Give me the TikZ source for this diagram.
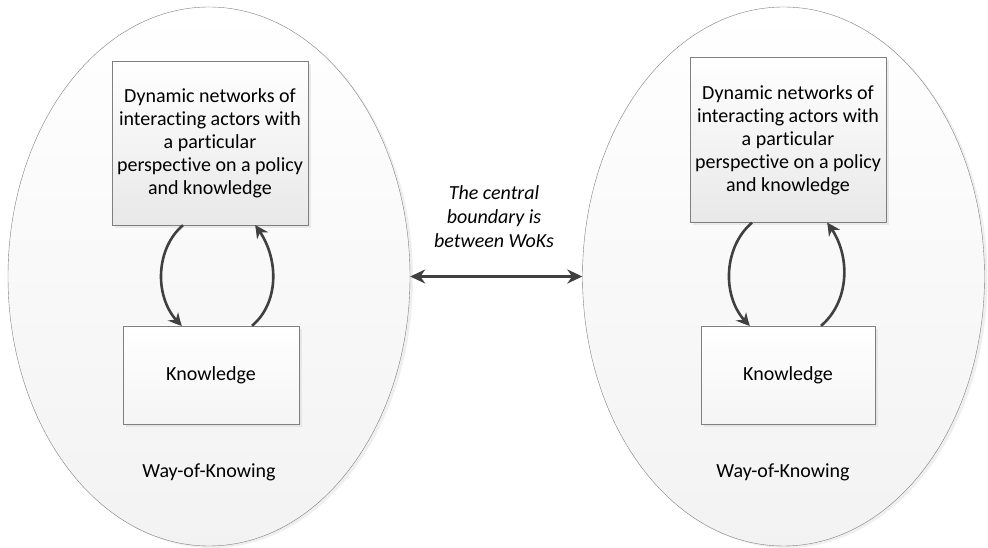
\documentclass[tikz,border=0pt]{standalone}
\usepackage{fontspec}
\setmainfont{Carlito}[Ligatures={NoCommon}]
\usepackage{xcolor}
\usepackage{tikz}
\usetikzlibrary{shapes.geometric,shadows,arrows.meta,bending}

\definecolor{linegrey}{HTML}{7F7F7F}
\definecolor{arrowgrey}{HTML}{404040}

\tikzset{
	wok/.style={ellipse,draw=linegrey,thin,top color=white,bottom color=gray!10,
		minimum width=402pt,minimum height=539pt,inner sep=0pt,
		drop shadow={shadow xshift=3pt,shadow yshift=-2pt,fill=gray!25}},
	netbox/.style={rectangle,draw=linegrey,top color=white,bottom color=gray!18,
		minimum width=196pt,minimum height=164pt,align=center,
		drop shadow={shadow xshift=3pt,shadow yshift=-3pt,fill=gray!30}},
	knowbox/.style={rectangle,draw=linegrey,top color=white,bottom color=gray!8,
		minimum width=176pt,minimum height=98pt,
		drop shadow={shadow xshift=3pt,shadow yshift=-3pt,fill=gray!30}},
	loop/.style={draw=arrowgrey,line width=2.6pt,looseness=0.95,-{Stealth[length=13pt,width=13pt,bend]}},
	txt/.style={font=\fontsize{20}{23}\selectfont}
}

\begin{document}
\begin{tikzpicture}[x=1pt,y=1pt,txt]
			\useasboundingbox (0,0) rectangle (988,548);
			
			% left way of knowing
			\draw (209,271.5) node[wok] (wokL) {};
			\draw (210,405) node[netbox] (netL) {Dynamic networks of\\interacting actors with\\a particular\\perspective on a policy\\and knowledge};
			\draw (211,173) node[knowbox] (knowL) {Knowledge};
			\draw (209,76) node (labL) {Way-of-Knowing};
			
			\draw[loop] ([xshift=-27pt]netL.south) to[out=-140,in=140] ([xshift=-29pt]knowL.north);
			\draw[loop] ([xshift=41pt]knowL.north) to[out=40,in=-50] ([xshift=45pt]netL.south);
			
			% right way of knowing
			\draw (783.5,271.5) node[wok] (wokR) {};
			\draw (788,408) node[netbox,minimum height=165pt] (netR) {Dynamic networks of\\interacting actors with\\a particular\\perspective on a policy\\and knowledge};
			\draw (788,173) node[knowbox,minimum width=174pt] (knowR) {Knowledge};
			\draw (783,76) node (labR) {Way-of-Knowing};
			
			\draw[loop] ([xshift=-36pt]netR.south) to[out=-140,in=140] ([xshift=-38pt]knowR.north);
			\draw[loop] ([xshift=33pt]knowR.north) to[out=40,in=-50] ([xshift=39pt]netR.south);
			
			% between the two
			\draw (494,331) node[align=center,font=\fontsize{20}{24}\selectfont\itshape] (bound) {The central\\boundary is\\between WoKs};
			\draw[draw=arrowgrey,line width=2.6pt,{Stealth[length=15pt,width=14pt]}-{Stealth[length=15pt,width=14pt]}] (wokL.east) -- (wokR.west);
\end{tikzpicture}
\end{document}
